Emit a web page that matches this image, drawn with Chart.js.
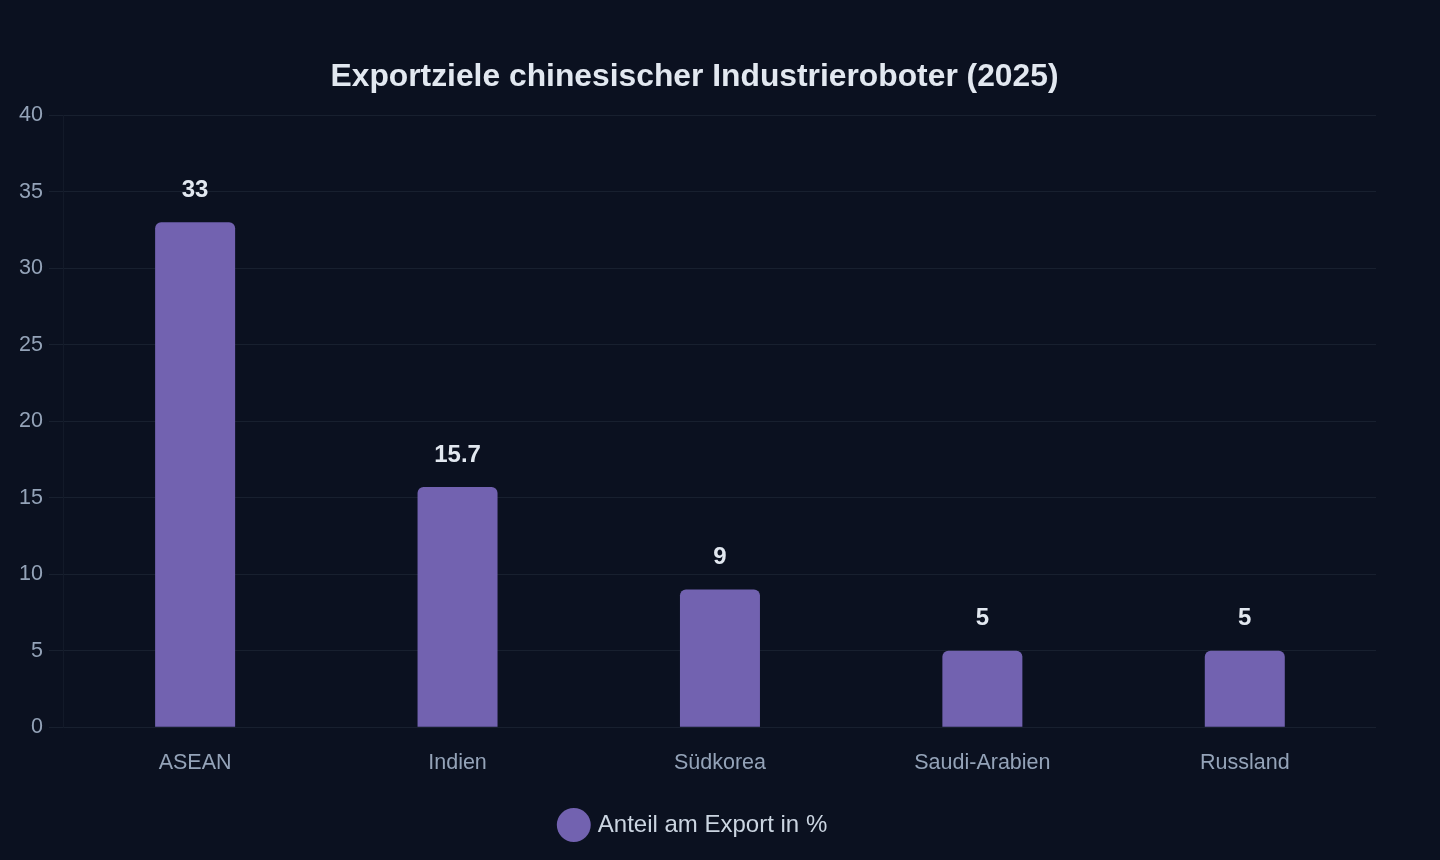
<!DOCTYPE html>
<html>
<head>
<meta charset="utf-8">
<script src="https://cdn.jsdelivr.net/npm/chart.js@4"></script>
<style>
  html, body { margin: 0; padding: 0; background: #0b1120; }
  #wrap { width: 1440px; height: 860px; }
</style>
</head>
<body>
<div id="wrap"><canvas id="chart" width="1440" height="860"></canvas></div>
<script>
const labels = ["ASEAN", "Indien", "Südkorea", "Saudi-Arabien", "Russland"];
const exportShare = [33, 15.7, 9, 5, 5];
const yTicks = [0, 5, 10, 15, 20, 25, 30, 35, 40];

// eigene Beschriftung boven de balken
const valueLabels = {
    id: 'valueLabels',
    afterDatasetsDraw(chart) {
        const ctx = chart.ctx;
        const meta = chart.getDatasetMeta(0);
        ctx.save();
        ctx.font = "bold 24px 'Liberation Sans', Arial, sans-serif";
        ctx.fillStyle = '#e2e8f0';
        ctx.textAlign = 'center';
        ctx.textBaseline = 'middle';
        meta.data.forEach((bar, i) => {
            ctx.fillText(String(exportShare[i]), bar.x, bar.y - 32);
        });
        ctx.restore();
    }
};

Chart.defaults.font.family = "'Liberation Sans', Arial, sans-serif";

new Chart(document.getElementById('chart'), {
    type: 'bar',
    data: {
        labels: labels,
        datasets: [{
            label: 'Anteil am Export in %',
            data: exportShare,
            backgroundColor: '#7262b0',
            borderColor: '#7262b0',
            borderWidth: 0,
            borderRadius: 6,
            borderSkipped: 'bottom',
            maxBarThickness: 80
        }]
    },
    options: {
        responsive: false,
        animation: false,
        layout: { padding: { left: 13, right: 64, top: 58, bottom: 13 } },
        scales: {
            x: {
                grid: { display: false },
                border: { display: false },
                ticks: { color: '#94a3b8', font: { size: 21.5 }, padding: 15 }
            },
            y: {
                min: 0,
                max: 40,
                afterBuildTicks: axis => { axis.ticks = yTicks.map(v => ({ value: v })); },
                grid: { color: 'rgba(148,163,184,0.1)', tickLength: 15 },
                border: { color: 'rgba(148,163,184,0.06)' },
                ticks: { color: '#94a3b8', font: { size: 21.5 }, padding: 6 }
            }
        },
        plugins: {
            title: {
                display: true,
                text: 'Exportziele chinesischer Industrieroboter (2025)',
                color: '#e2e8f0',
                font: { size: 31.8, weight: 'bold' },
                padding: { top: 0, bottom: 19 }
            },
            legend: {
                position: 'bottom',
                labels: {
                    color: '#cbd5e1',
                    font: { size: 24 },
                    usePointStyle: true,
                    pointStyle: 'circle',
                    padding: 22
                }
            },
            tooltip: { enabled: false }
        }
    },
    plugins: [valueLabels]
});
</script>
</body>
</html>
